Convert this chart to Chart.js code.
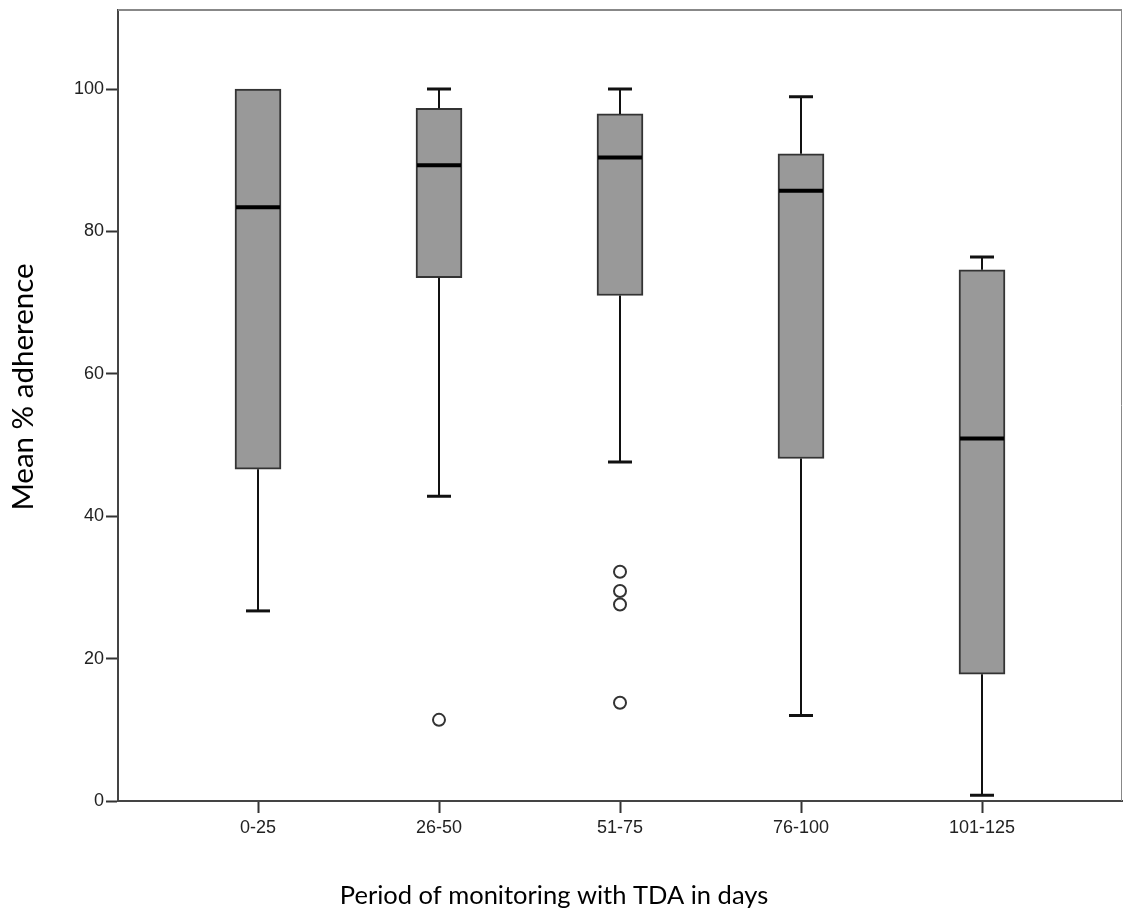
<!DOCTYPE html>
<html>
<head>
<meta charset="utf-8">
<script src="https://cdn.jsdelivr.net/npm/chart.js@4.4.1/dist/chart.umd.min.js"></script>
<style>
  html, body { margin: 0; padding: 0; background: #fff; overflow: hidden; }
  #wrap { width: 1123px; height: 914px; }
  canvas { display: block; }
</style>
</head>
<body>
<div id="wrap"><canvas id="boxes" width="1123" height="914"></canvas></div>
<script>
// Periodos de monitoreo (categorias) y estadisticos de cada caja
var categories = ['0-25', '26-50', '51-75', '76-100', '101-125'];
var lowWhisker = [26.7, 42.8, 47.6, 12.0, 0.8];
var q1 = [46.6, 73.5, 71.0, 48.1, 17.8];
var median = [83.4, 89.3, 90.4, 85.7, 50.9];
var q3 = [100, 97.3, 96.5, 90.9, 74.6];
var highWhisker = [100, 100, 100, 98.9, 76.4];

// Valores atipicos: indice de la categoria (1..5) y valor
var outlierGroup = [2, 3, 3, 3, 3];
var outlierValues = [11.4, 32.2, 29.5, 27.6, 13.8];

var yTicks = [0, 20, 40, 60, 80, 100];

var boxData = [];
for (var i = 0; i < categories.length; i++) {
  boxData.push({ x: i + 1, y: [q1[i], q3[i]] });
}
var outlierData = [];
for (var i = 0; i < outlierValues.length; i++) {
  outlierData.push({ x: outlierGroup[i], y: outlierValues[i] });
}

// Bigotes, topes y medianas dibujados con las escalas del grafico
var boxExtras = {
  id: 'boxExtras',
  afterDatasetsDraw: function(chart) {
    var ctx = chart.ctx;
    var xs = chart.scales.x, ys = chart.scales.y;
    ctx.save();
    for (var i = 0; i < categories.length; i++) {
      var cx = Math.round(xs.getPixelForValue(i + 1));
      ctx.strokeStyle = '#111';
      ctx.lineWidth = 2;
      ctx.beginPath();
      if (highWhisker[i] > q3[i]) {
        ctx.moveTo(cx, ys.getPixelForValue(q3[i]));
        ctx.lineTo(cx, ys.getPixelForValue(highWhisker[i]));
      }
      ctx.moveTo(cx, ys.getPixelForValue(q1[i]));
      ctx.lineTo(cx, ys.getPixelForValue(lowWhisker[i]));
      ctx.stroke();
      // topes
      ctx.lineWidth = 3;
      ctx.beginPath();
      if (highWhisker[i] > q3[i]) {
        var yh = ys.getPixelForValue(highWhisker[i]);
        ctx.moveTo(cx - 12, yh);
        ctx.lineTo(cx + 12, yh);
      }
      var yl = ys.getPixelForValue(lowWhisker[i]);
      ctx.moveTo(cx - 12, yl);
      ctx.lineTo(cx + 12, yl);
      ctx.stroke();
      // mediana
      ctx.strokeStyle = '#000';
      ctx.lineWidth = 4;
      ctx.beginPath();
      var ym = ys.getPixelForValue(median[i]);
      ctx.moveTo(cx - 22, ym);
      ctx.lineTo(cx + 22, ym);
      ctx.stroke();
    }
    ctx.restore();
  },
  afterDraw: function(chart) {
    var ctx = chart.ctx;
    var a = chart.chartArea;
    ctx.save();
    // marco superior y derecho
    ctx.strokeStyle = '#888';
    ctx.lineWidth = 2;
    ctx.beginPath();
    ctx.moveTo(a.left, a.top);
    ctx.lineTo(a.right, a.top);
    ctx.stroke();
    ctx.lineWidth = 1;
    ctx.beginPath();
    ctx.moveTo(a.right - 0.5, a.top);
    ctx.lineTo(a.right - 0.5, a.bottom);
    ctx.stroke();
    // titulos de ejes
    ctx.fillStyle = '#000';
    ctx.textAlign = 'center';
    ctx.textBaseline = 'middle';
    ctx.font = '25.5px Lato';
    ctx.fillText('Period of monitoring with TDA in days', 554, 896);
    ctx.translate(23, 387);
    ctx.rotate(-Math.PI / 2);
    ctx.font = '29.5px Lato';
    ctx.fillText('Mean % adherence', 0, 0);
    ctx.restore();
  }
};

var config = {
  type: 'bar',
  data: {
    datasets: [{
      type: 'bar',
      data: boxData,
      backgroundColor: '#999999',
      borderColor: '#333333',
      borderWidth: 2,
      borderSkipped: false,
      barThickness: 46
    }, {
      type: 'scatter',
      data: outlierData,
      pointStyle: 'circle',
      pointRadius: 6,
      pointBorderWidth: 2,
      pointBackgroundColor: '#ffffff',
      pointBorderColor: '#333333'
    }]
  },
  plugins: [boxExtras],
  options: {
    responsive: false,
    animation: false,
    devicePixelRatio: 1,
    layout: { autoPadding: false, padding: { top: 10, right: 1, left: 0, bottom: 0 } },
    plugins: {
      legend: { display: false },
      tooltip: { enabled: false }
    },
    scales: {
      x: {
        type: 'linear',
        offset: false,
        min: 1 - 140 / 181,
        max: 5 + 140 / 181,
        afterFit: function(scale) {
          scale.height = 113;
          scale.paddingLeft = 0;
          scale.paddingRight = 0;
        },
        afterBuildTicks: function(scale) {
          scale.ticks = categories.map(function(c, i) { return { value: i + 1 }; });
        },
        grid: { offset: false, drawOnChartArea: false, drawTicks: true, tickLength: 12, tickWidth: 2, tickColor: '#333' },
        border: { display: true, color: '#444', width: 2 },
        ticks: {
          padding: 4,
          color: '#222',
          maxRotation: 0,
          font: { family: 'Liberation Sans', size: 18 },
          callback: function(v) { return categories[v - 1]; }
        }
      },
      y: {
        min: 0,
        max: 111.1,
        afterFit: function(scale) {
          scale.width = 118;
          scale.paddingTop = 0;
          scale.paddingBottom = 0;
        },
        afterBuildTicks: function(scale) {
          scale.ticks = yTicks.map(function(v) { return { value: v }; });
        },
        grid: { drawOnChartArea: false, drawTicks: true, tickLength: 12, tickWidth: 2, tickColor: '#333' },
        border: { display: true, color: '#444', width: 2 },
        ticks: {
          padding: 2,
          color: '#222',
          font: { family: 'Liberation Sans', size: 18 }
        }
      }
    }
  }
};

var ctx = document.getElementById('boxes');
window.myBox = new Chart(ctx, config);
</script>
</body>
</html>
